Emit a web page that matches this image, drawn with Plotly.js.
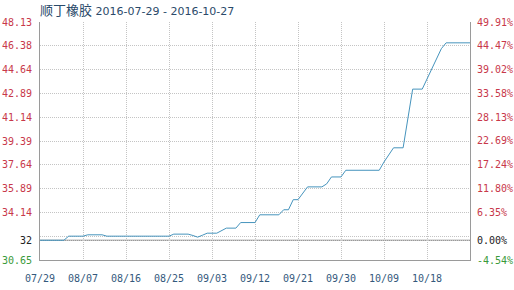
<!DOCTYPE html>
<html>
<head>
<meta charset="utf-8">
<script src="https://cdn.plot.ly/plotly-3.0.1.min.js"></script>
<style>html,body{margin:0;padding:0;background:#fff;}#chart{width:514px;height:290px;}</style>
</head>
<body>
<div id="chart"></div>
<script>
// ---- data ----
var titleText = '顺丁橡胶 2016-07-29 - 2016-10-27';
var dates = ['2016-07-29','2016-08-03','2016-08-04','2016-08-07','2016-08-08','2016-08-11','2016-08-12',
  '2016-08-25','2016-08-26','2016-08-29','2016-08-30','2016-08-31','2016-09-01','2016-09-02','2016-09-04',
  '2016-09-05','2016-09-06','2016-09-08','2016-09-09','2016-09-12','2016-09-13','2016-09-17','2016-09-18',
  '2016-09-19','2016-09-20','2016-09-21','2016-09-22','2016-09-23','2016-09-26','2016-09-27','2016-09-28',
  '2016-09-30','2016-10-01','2016-10-08','2016-10-09','2016-10-10','2016-10-11','2016-10-13','2016-10-14',
  '2016-10-15','2016-10-17','2016-10-18','2016-10-19','2016-10-20','2016-10-21','2016-10-22','2016-10-27'];
var prices = [32.1,32.1,32.4,32.4,32.5,32.5,32.4,
  32.4,32.55,32.55,32.45,32.33,32.47,32.62,32.62,
  32.8,32.99,32.99,33.4,33.4,33.97,33.97,34.34,
  34.34,35.08,35.08,35.55,36.02,36.02,36.24,36.75,
  36.75,37.24,37.24,37.85,38.35,38.89,38.89,41.05,
  43.2,43.2,43.93,44.6,45.4,46.17,46.6,46.6];
var xTickDates = ['2016-07-29','2016-08-07','2016-08-16','2016-08-25','2016-09-03','2016-09-12','2016-09-21','2016-09-30','2016-10-09','2016-10-18'];
var xTickLabels = ['07/29','08/07','08/16','08/25','09/03','09/12','09/21','09/30','10/09','10/18'];
var xRange = ['2016-07-29','2016-10-27'];
var leftTickVals = [30.65,32.1,32.398,34.14,35.89,37.64,39.39,41.14,42.89,44.64,46.38,48.13];
var leftTickLabels = ['30.65','32','','34.14','35.89','37.64','39.39','41.14','42.89','44.64','46.38','48.13'];
var rightTickVals = [-4.54,0,6.35,11.80,17.24,22.69,28.13,33.58,39.02,44.47,49.91];
var rightTickLabels = ['-4.54%','0.00%','6.35%','11.80%','17.24%','22.69%','28.13%','33.58%','39.02%','44.47%','49.91%'];

// ---- styling ----
var RED = '#c8384a', GREEN = '#3a9a3a', BLACK = '#222222';
var base = prices[0];
var pct = prices.map(function(v){ return (v / base - 1) * 100; });

function colorLabel(t, i) {
  if (t === '') return '';
  var c = RED;
  if (i === 0) c = GREEN;
  else if (t === '32' || t === '0.00%') c = BLACK;
  return '<span style="color:' + c + '">' + t + '</span>';
}
var leftText = leftTickLabels.map(function(t,i){ return colorLabel(t,i); });
var rightText = rightTickLabels.map(function(t,i){ return colorLabel(t,i); });

var traces = [
  {x: dates, y: prices, type: 'scatter', mode: 'lines', line: {color: '#4694bd', width: 1}, hoverinfo: 'skip', yaxis: 'y'},
  {x: dates, y: pct, type: 'scatter', mode: 'lines', line: {color: 'rgba(0,0,0,0)', width: 0}, hoverinfo: 'skip', yaxis: 'y2', showlegend: false}
];

var tickFont = {family: 'DejaVu Sans Mono, monospace', size: 10, color: RED};
var GRID = '#c4c4c4', GRIDDASH = '1px,1px';

var layout = {
  width: 514, height: 290,
  margin: {l: 40, r: 44, t: 22, b: 30, pad: 0},
  paper_bgcolor: '#ffffff', plot_bgcolor: '#ffffff',
  showlegend: false,
  title: {
    text: '<span style="font-size:13px">' + titleText.slice(0,4) + '</span>' + titleText.slice(4),
    font: {family: 'DejaVu Sans, Noto Sans CJK SC, sans-serif', size: 11, color: '#2a4a6a'},
    x: 40/514, xref: 'container', xanchor: 'left', y: 1 - 11/290, yref: 'container', yanchor: 'middle'
  },
  xaxis: {
    type: 'date', range: xRange, tickmode: 'array', tickvals: xTickDates, ticktext: xTickLabels,
    showgrid: true, gridcolor: GRID, griddash: GRIDDASH, gridwidth: 1,
    showline: true, linecolor: '#9a9a9a', linewidth: 1, zeroline: false,
    ticks: '', ticklabelstandoff: 9,
    tickfont: {family: 'DejaVu Sans Mono, monospace', size: 10, color: '#34597d'},
    fixedrange: true
  },
  yaxis: {
    range: [leftTickVals[0], leftTickVals[leftTickVals.length-1]],
    tickmode: 'array', tickvals: leftTickVals, ticktext: leftText,
    showgrid: true, gridcolor: GRID, griddash: GRIDDASH, gridwidth: 1,
    showline: true, linecolor: '#9a9a9a', linewidth: 1, zeroline: false,
    ticks: '', ticklabelstandoff: 5, tickfont: tickFont, fixedrange: true
  },
  yaxis2: {
    overlaying: 'y', side: 'right',
    range: [rightTickVals[0], rightTickVals[rightTickVals.length-1]],
    tickmode: 'array', tickvals: rightTickVals, ticktext: rightText,
    showgrid: false, showline: true, linecolor: '#9a9a9a', linewidth: 1, zeroline: false,
    ticks: '', ticklabelstandoff: 4, tickfont: tickFont, fixedrange: true
  },
  shapes: [
    {type: 'line', xref: 'paper', x0: 0, x1: 1, yref: 'y', y0: base, y1: base,
     line: {color: '#7a7a7a', width: 1}, layer: 'below'}
  ]
};

Plotly.newPlot('chart', traces, layout, {displayModeBar: false, staticPlot: true});
</script>
</body>
</html>
